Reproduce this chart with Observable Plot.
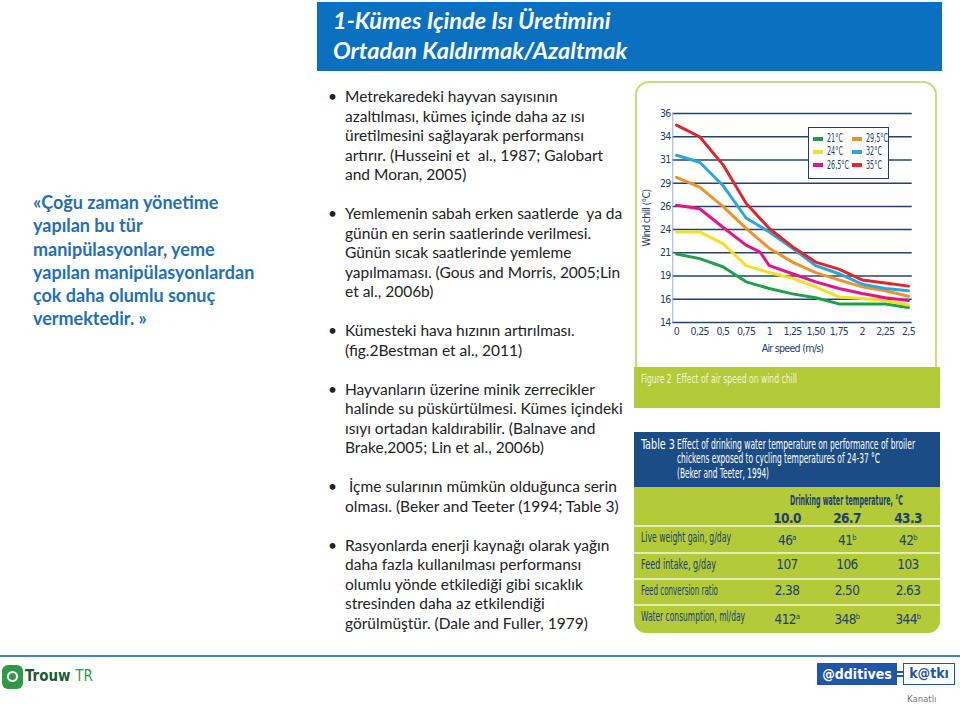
<!DOCTYPE html>
<html>
<head>
<meta charset="utf-8">
<script src="https://cdn.jsdelivr.net/npm/d3@7"></script>
<script src="https://cdn.jsdelivr.net/npm/@observablehq/plot@0.6"></script>
<style>
  html, body { margin: 0; padding: 0; background: #fff; }
  #slide { position: relative; width: 960px; height: 704px; overflow: hidden; font-family: Lato, "Open Sans", sans-serif; }
  .abs { position: absolute; }
  .cond { font-family: "DejaVu Sans Condensed", "DejaVu Sans", sans-serif; font-stretch: condensed; }
  .fit { position: absolute; white-space: nowrap; transform-origin: 0 50%; display: inline-block; }
  #title { left: 317px; top: 2px; width: 625px; height: 69px; background: #0b70c0; color: #fff; font-weight: 700; font-style: italic; font-size: 23.5px; line-height: 30px; box-sizing: border-box; padding: 3px 0 0 16px; }
  #quote { left: 33px; top: 191px; color: #1f6fb5; font-weight: 700; font-size: 18px; line-height: 23.3px; white-space: nowrap; }
  #bullets { left: 328px; top: 87px; color: #222; font-size: 15.5px; line-height: 19.52px; white-space: nowrap; }
  #bullets .p { position: relative; padding-left: 17px; margin-bottom: 19.52px; }
  #bullets .p::before { content: "•"; position: absolute; left: 0; top: 0; }
  #figframe { left: 635px; top: 81px; width: 302px; height: 290px; border: 2px solid #cddb78; border-bottom: none; border-radius: 14px 14px 0 0; box-sizing: border-box; }
  #chart { left: 636px; top: 82px; }
  #legend { left: 808px; top: 127px; width: 81px; height: 52px; border: 1px solid #1e3c6e; background: #fff; box-sizing: border-box; font-size: 11.5px; color: #1e3c6e; }
  #legend .sw { position: absolute; width: 10px; height: 4px; }
  #caption { left: 634px; top: 367px; width: 306px; height: 41px; background: #b3ca39; color: #f1f6d4; font-size: 13px; }
  #table { left: 634px; top: 432px; width: 306px; height: 201px; background: #b3ca39; border-radius: 0 0 12px 12px; overflow: hidden; color: #1f3f6e; font-size: 13.5px; }
  #thead { position: absolute; left: 0; top: 0; width: 306px; height: 55px; background: #1b4c85; color: #fff; }
  .sep { position: absolute; left: 0; width: 306px; height: 1.5px; background: #e4edb8; }
  sup { font-size: 7.5px; vertical-align: 5px; }
  #footline { left: 0; top: 655px; width: 960px; height: 2px; background: #4a7fbf; }
</style>
</head>
<body>
<div id="slide">
  <div id="title" class="abs">1-Kümes Içinde Isı Üretimini<br>Ortadan Kaldırmak/Azaltmak</div>

  <div id="quote" class="abs">«Çoğu zaman yönetime<br>yapılan bu tür<br>manipülasyonlar, yeme<br>yapılan manipülasyonlardan<br>çok daha olumlu sonuç<br>vermektedir. »</div>

  <div id="bullets" class="abs">
    <div class="p">Metrekaredeki hayvan sayısının<br>azaltılması, kümes içinde daha az ısı<br>üretilmesini sağlayarak performansı<br>artırır. (Husseini et&nbsp; al., 1987; Galobart<br>and Moran, 2005)</div>
    <div class="p">Yemlemenin sabah erken saatlerde&nbsp; ya da<br>günün en serin saatlerinde verilmesi.<br>Günün sıcak saatlerinde yemleme<br>yapılmaması. (Gous and Morris, 2005;Lin<br>et al., 2006b)</div>
    <div class="p">Kümesteki hava hızının artırılması.<br>(fig.2Bestman et al., 2011)</div>
    <div class="p">Hayvanların üzerine minik zerrecikler<br>halinde su püskürtülmesi. Kümes içindeki<br>ısıyı ortadan kaldırabilir. (Balnave and<br>Brake,2005; Lin et al., 2006b)</div>
    <div class="p">&nbsp;İçme sularının mümkün olduğunca serin<br>olması. (Beker and Teeter (1994; Table 3)</div>
    <div class="p">Rasyonlarda enerji kaynağı olarak yağın<br>daha fazla kullanılması performansı<br>olumlu yönde etkilediği gibi sıcaklık<br>stresinden daha az etkilendiği<br>görülmüştür. (Dale and Fuller, 1979)</div>
  </div>

  <div id="figframe" class="abs"></div>
  <div id="chart" class="abs"></div>
  <div id="legend" class="abs cond"></div>
  <div id="caption" class="abs cond"></div>

  <div id="table" class="abs cond"></div>

  <div id="footline" class="abs"></div>
  <div class="abs" style="left:2px;top:665px;width:21px;height:24px;background:#2e9a48;border-radius:6px;"></div>
  <div class="abs" style="left:7px;top:671px;width:11px;height:11px;border:2px solid #fff;border-radius:50%;box-sizing:border-box;"></div>
  <div class="abs cond" style="left:25px;top:667px;font-size:15px;font-weight:700;color:#1b5a33;">Trouw <span style="font-weight:400;color:#2e9a48;">TR</span></div>
  <div class="abs cond" style="left:817px;top:663px;width:80px;height:22px;background:#1f56a8;color:#fff;font-weight:700;font-size:14px;line-height:22px;text-align:center;">@dditives</div>
  <div class="abs" style="left:897px;top:671px;width:7px;height:2px;background:#1f56a8;"></div>
  <div class="abs" style="left:897px;top:675px;width:7px;height:2px;background:#1f56a8;"></div>
  <div class="abs cond" style="left:903px;top:663px;width:52px;height:22px;border:1.5px solid #1f56a8;box-sizing:border-box;color:#1f56a8;font-weight:700;font-size:14px;line-height:19px;text-align:center;">k@tkı</div>
  <div class="abs cond" style="left:907px;top:693px;font-size:9.5px;color:#777;">Kanatlı</div>
</div>

<script>
// ---- Chart data (Figure 2: effect of air speed on wind chill) ----
const airSpeed = [0, 0.25, 0.5, 0.75, 1, 1.25, 1.5, 1.75, 2, 2.25, 2.5];
const xTickLabels = ["0", "0,25", "0,5", "0,75", "1", "1,25", "1,50", "1,75", "2", "2,25", "2,5"];
const yTicks = [14, 16, 19, 21, 24, 26, 29, 31, 34, 36];

const seriesNames = ["21°C", "24°C", "26,5°C", "29,5°C", "32°C", "35°C"];
const seriesColors = ["#1fa04a", "#f4e025", "#e0168c", "#f0922b", "#2aa6dc", "#e0262b"];

const chill21  = [20.9, 20.5, 19.8, 18.25, 17.4, 16.7, 16.2, 15.6, 15.6, 15.6, 15.3];
const chill24  = [23.7, 23.7, 22.2, 19.9, 19.3, 18.7, 17.6, 16.3, 16.1, 15.9, 15.5];
const chill265x = [0, 0.25, 0.5, 0.75, 0.9, 1, 1.25, 1.5, 1.75, 2, 2.25, 2.5];
const chill265 = [26.15, 25.8, 24.2, 22.0, 21.1, 19.9, 19.2, 18.25, 17.4, 16.75, 16.2, 15.9];
const chill295 = [29.5, 28.5, 26.0, 24.1, 21.6, 20.2, 19.3, 18.5, 17.6, 17.1, 16.4];
const chill32  = [31.6, 30.8, 28.7, 25.0, 23.7, 21.6, 19.9, 19.2, 17.95, 17.4, 17.1];
const chill35  = [35.0, 34.0, 30.6, 26.4, 24.1, 21.8, 20.2, 19.6, 18.5, 18.1, 17.7];

const captionText = "Figure 2\u00a0 Effect of air speed on wind chill";

// ---- Table data (Table 3) ----
const tableTitle = ["Effect of drinking water temperature on performance of broiler", "chickens exposed to cycling temperatures of 24-37 °C", "(Beker and Teeter, 1994)"];
const tableColHead = "Drinking water temperature, °C";
const tableCols = ["10.0", "26.7", "43.3"];
const tableRows = ["Live weight gain, g/day", "Feed intake, g/day", "Feed conversion ratio", "Water consumption, ml/day"];
const tableVals = [["46", "41", "42"], ["107", "106", "103"], ["2.38", "2.50", "2.63"], ["412", "348", "344"]];
const tableSups = [["a", "b", "b"], ["", "", ""], ["", "", ""], ["a", "b", "b"]];

// build long table for Plot
const seriesXs = [airSpeed, airSpeed, chill265x, airSpeed, airSpeed, airSpeed];
const seriesYs = [chill21, chill24, chill265, chill295, chill32, chill35];
const rows = [];
seriesNames.forEach((name, i) => {
  seriesYs[i].forEach((v, j) => rows.push({series: name, speed: seriesXs[i][j], chill: v}));
});

const navy = "#1e3c6e";
const chart = Plot.plot({
  width: 302,
  height: 284,
  marginLeft: 40,
  marginRight: 30,
  marginTop: 31,
  marginBottom: 44,
  style: {fontFamily: "'DejaVu Sans Condensed', 'DejaVu Sans', sans-serif", fontStretch: "condensed", fontSize: "10.5px", color: navy, background: "transparent", overflow: "visible", letterSpacing: "-0.7px"},
  x: {domain: [0, 2.5]},
  y: {type: "linear", domain: yTicks},
  color: {domain: seriesNames, range: seriesColors},
  marks: [
    Plot.gridY(yTicks, {stroke: "#24436b", strokeOpacity: 1, strokeWidth: 1.5, x1: -0.04, x2: 2.54}),
    Plot.ruleX([-0.04], {stroke: "#9fb0c8", strokeWidth: 1}),
    Plot.axisY({ticks: yTicks, tickSize: 0, tickPadding: 6, label: "Wind chill (°C)", labelAnchor: "center", labelOffset: 34, labelArrow: false}),
    Plot.axisX({ticks: airSpeed, tickSize: 0, tickPadding: 5, tickFormat: (d) => xTickLabels[airSpeed.indexOf(d)], label: "Air speed (m/s)", labelAnchor: "center", labelOffset: 29, labelArrow: false}),
    Plot.line(rows, {x: "speed", y: "chill", z: "series", stroke: "series", strokeWidth: 3, curve: "linear"})
  ]
});
document.getElementById("chart").appendChild(chart);

// helper: place a text and squeeze it horizontally to the reference width
function fitText(parent, text, left, top, width, extra = {}) {
  const d = document.createElement("div");
  d.className = "fit";
  d.style.left = left + "px";
  d.style.top = top + "px";
  Object.assign(d.style, extra);
  d.innerHTML = text;
  parent.appendChild(d);
  const w = d.getBoundingClientRect().width;
  if (width && w > 0) d.style.transform = `scaleX(${width / w})`;
  return d;
}

// legend (from series arrays)
const legend = document.getElementById("legend");
const legendOrder = [0, 3, 1, 4, 2, 5];
legendOrder.forEach((si, k) => {
  const col = k % 2, row = Math.floor(k / 2);
  const left = col === 0 ? 4 : 43;
  const top = 4 + row * 13.3;
  const sw = document.createElement("div");
  sw.className = "sw";
  sw.style.left = left + "px";
  sw.style.top = (top + 4.5) + "px";
  sw.style.background = seriesColors[si];
  legend.appendChild(sw);
  const nm = seriesNames[si];
  fitText(legend, nm, left + 14, top, nm.length > 4 ? 22 : 16, {lineHeight: "13px"});
});

// caption
fitText(document.getElementById("caption"), captionText, 7, 4, 156, {lineHeight: "15px"});

// table
const table = document.getElementById("table");
const thead = document.createElement("div");
thead.id = "thead";
table.appendChild(thead);
fitText(thead, "Table 3", 7, 5, 34, {lineHeight: "14px"});
const titleW = [238, 203, 92];
tableTitle.forEach((t, i) => fitText(thead, t, 43, 5 + i * 14.3, titleW[i], {lineHeight: "14px"}));

fitText(table, tableColHead, 156, 61, 113, {lineHeight: "14px", fontWeight: "700"});
const colX = [153, 213, 274];
tableCols.forEach((c, i) => {
  const d = document.createElement("div");
  d.style.cssText = `position:absolute;top:78px;left:${colX[i]}px;width:40px;margin-left:-20px;text-align:center;font-weight:700;font-size:13.5px;letter-spacing:-0.6px;`;
  d.textContent = c;
  table.appendChild(d);
});
const rowTop = [93, 120, 146, 172];
const rowLabelW = [90, 75, 77, 104];
tableRows.forEach((r, i) => {
  const s = document.createElement("div");
  s.className = "sep";
  s.style.top = rowTop[i] + "px";
  table.appendChild(s);
  fitText(table, r, 7, rowTop[i] + 5, rowLabelW[i], {lineHeight: "15px"});
  tableVals[i].forEach((v, j) => {
    const d = document.createElement("div");
    d.style.cssText = `position:absolute;top:${rowTop[i] + 5}px;left:${colX[j]}px;width:40px;margin-left:-20px;text-align:center;line-height:15px;letter-spacing:-0.6px;`;
    d.innerHTML = v + (tableSups[i][j] ? "<sup>" + tableSups[i][j] + "</sup>" : "");
    table.appendChild(d);
  });
});
</script>
</body>
</html>
